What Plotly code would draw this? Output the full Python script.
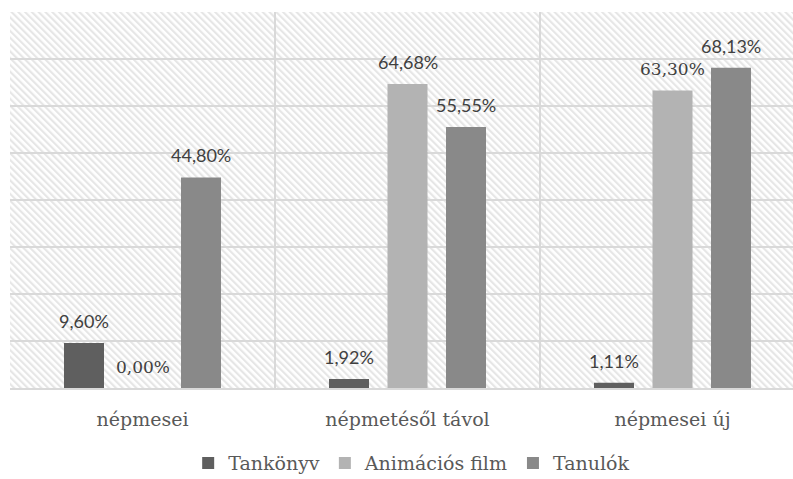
import base64
import plotly.graph_objects as go

# ---- data ----
categories = ["népmesei", "népmetésől távol", "népmesei új"]
series_names = ["Tankönyv", "Animációs film", "Tanulók"]
tankonyv = [9.60, 1.92, 1.11]
animacios = [0.00, 64.68, 63.30]
tanulok = [44.80, 55.55, 68.13]
y_min, y_max, y_step = 0, 80, 10

# ---- styles ----
colors = ["#5f5f5f", "#b3b3b3", "#898989"]
SANS = "Lato"
SERIF = "DejaVu Serif"
# labels rendered in serif in the original (series index, category index)
serif_labels = {(1, 0), (1, 2)}

W, H = 793, 479
ML, MR, MT, MB = 10, 0, 12, 91
plot_w = W - ML - MR
cat_px = 265.0
x_hi = plot_w / cat_px - 0.5

# hatched background as an svg image
svg = f'''<svg xmlns="http://www.w3.org/2000/svg" width="{plot_w}" height="{H-MT-MB}">
<defs><pattern id="h" patternUnits="userSpaceOnUse" width="4.8" height="4.8" patternTransform="rotate(-45)">
<rect x="0" y="0" width="2.2" height="4.8" fill="#e6e6e6"/></pattern></defs>
<rect width="100%" height="100%" fill="#ffffff"/>
<rect width="100%" height="100%" fill="url(#h)"/></svg>'''
uri = "data:image/svg+xml;base64," + base64.b64encode(svg.encode()).decode()

fig = go.Figure()
all_vals = [tankonyv, animacios, tanulok]
for name, vals, c in zip(series_names, all_vals, colors):
    fig.add_trace(go.Bar(x=categories, y=vals, name=name, marker_color=c,
                         marker_line_width=0))

pitch = 58.5
for i, vals in enumerate(all_vals):
    for j, v in enumerate(vals):
        serif = (i, j) in serif_labels
        fig.add_annotation(
            x=categories[j], y=v, xref="x", yref="y",
            text=f"{v:.2f}%".replace(".", ","),
            showarrow=False, yanchor="bottom", xanchor="center",
            xshift=(i - 1) * pitch, yshift=9,
            font=dict(family=SERIF if serif else SANS,
                      size=17 if serif else 18, color="#404040"))

fig.add_layout_image(source=uri, xref="paper", yref="paper", x=0, y=1,
                     sizex=1, sizey=1, xanchor="left", yanchor="top",
                     sizing="stretch", layer="below")

fig.update_layout(
    width=W, height=H,
    margin=dict(l=ML, r=MR, t=MT, b=MB, autoexpand=False),
    paper_bgcolor="white", plot_bgcolor="rgba(0,0,0,0)",
    barmode="group", bargap=0.3377, bargroupgap=0.316,
    showlegend=True,
    legend=dict(orientation="h", x=0.513, xanchor="center", y=-0.2,
                yanchor="middle", font=dict(family=SERIF, size=19, color="#595959"),
                itemclick=False, traceorder="normal"),
)
fig.update_xaxes(type="category", range=[-0.5, x_hi], tickson="boundaries",
                 showgrid=True, gridcolor="#d9d9d9", gridwidth=1.5,
                 showline=True, linecolor="#d9d9d9", linewidth=1.5,
                 ticks="", ticklabelstandoff=13,
                 tickfont=dict(family=SERIF, size=19, color="#595959"))
fig.update_yaxes(range=[y_min, y_max], dtick=y_step, showticklabels=False,
                 showgrid=True, gridcolor="#d9d9d9", gridwidth=1.5,
                 zeroline=False, ticks="")

fig.write_html("out.html")
